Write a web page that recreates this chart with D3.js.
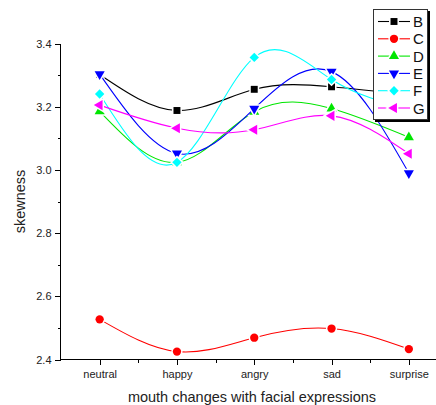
<!DOCTYPE html>
<html lang="en">
<head>
<meta charset="UTF-8">
<title>skewness by facial expression</title>
<script src="https://d3js.org/d3.v7.min.js"></script>
<style>
    body { margin: 0; background: #fff; }
    svg { display: block; font-family: "Liberation Sans", Arial, sans-serif; }
    .series-line { fill: none; stroke-width: 1.1; }
    .axis path, .axis line { stroke: #000; shape-rendering: crispEdges; }
    .axis text { font-size: 11px; fill: #222; }
    .title { font-size: 14.5px; fill: #222; }
    .legend-label { font-size: 15px; fill: #111; }
</style>
</head>
<body>
<div id="chart"></div>
<script>
    // categories and series
    const expressions = ["neutral", "happy", "angry", "sad", "surprise"];
    const seriesNames = ["B", "C", "D", "E", "F", "G"];
    const valuesB = [3.302, 3.188, 3.255, 3.263, 3.238];
    const valuesC = [2.527, 2.425, 2.469, 2.498, 2.433];
    const valuesD = [3.185, 3.024, 3.184, 3.194, 3.103];
    const valuesE = [3.303, 3.052, 3.194, 3.311, 2.990];
    const valuesF = [3.240, 3.024, 3.356, 3.286, 3.195];
    const valuesG = [3.205, 3.132, 3.127, 3.171, 3.051];
    const yTicks = [2.4, 2.6, 2.8, 3.0, 3.2, 3.4];
    const yMinorTicks = [2.5, 2.7, 2.9, 3.1, 3.3];

    const colors = ["#000000", "#ff0000", "#00e600", "#0000ff", "#00ffff", "#ff00ff"];
    const allValues = [valuesB, valuesC, valuesD, valuesE, valuesF, valuesG];

    const width = 436, height = 405;
    const svg = d3.select("#chart").append("svg")
        .attr("width", width)
        .attr("height", height);

    const x = d3.scalePoint()
        .domain(expressions)
        .range([61, 447.5])
        .padding(0.5);
    const y = d3.scaleLinear()
        .domain([2.4, 3.4])
        .range([359.5, 43.5]);

    // marker shapes
    const diamond = {
        draw(ctx, size) {
            const r = Math.sqrt(size / 2);
            ctx.moveTo(0, -r); ctx.lineTo(r, 0); ctx.lineTo(0, r); ctx.lineTo(-r, 0); ctx.closePath();
        }
    };
    const markers = [
        { type: d3.symbolSquare, size: 48, rot: 0 },
        { type: d3.symbolCircle, size: 54, rot: 0 },
        { type: d3.symbolTriangle, size: 44, rot: 0 },
        { type: d3.symbolTriangle, size: 44, rot: 180 },
        { type: diamond, size: 44, rot: 0 },
        { type: d3.symbolTriangle, size: 44, rot: -90 }
    ];

    // axes
    const yAxis = svg.append("g")
        .attr("class", "axis")
        .attr("transform", "translate(60.5,0)")
        .call(d3.axisLeft(y).tickValues(yTicks).tickSize(6).tickPadding(3).tickFormat(d3.format(".1f")));
    svg.append("g")
        .attr("class", "axis")
        .attr("transform", "translate(60.5,0)")
        .call(d3.axisLeft(y).tickValues(yMinorTicks).tickSize(3).tickFormat(""))
        .select(".domain").remove();
    yAxis.select(".domain").attr("d", "M0," + y(3.4) + "V" + y(2.4));

    const xAxis = svg.append("g")
        .attr("class", "axis")
        .attr("transform", "translate(0,359.5)")
        .call(d3.axisBottom(x).tickSize(5).tickPadding(6));
    xAxis.select(".domain").attr("d", "M60.5,0H436");
    const step = x.step();
    svg.append("g")
        .attr("class", "axis")
        .attr("transform", "translate(0,359.5)")
        .selectAll("line")
        .data(expressions.slice(1))
        .join("line")
        .attr("x1", d => Math.round(x(d) - step / 2) + 0.5)
        .attr("x2", d => Math.round(x(d) - step / 2) + 0.5)
        .attr("y1", 0)
        .attr("y2", 3);

    // axis titles
    svg.append("text")
        .attr("class", "title")
        .attr("text-anchor", "middle")
        .attr("transform", "translate(25," + y(2.9) + ") rotate(-90)")
        .text("skewness");
    svg.append("text")
        .attr("class", "title")
        .attr("text-anchor", "middle")
        .attr("x", 252)
        .attr("y", 402)
        .text("mouth changes with facial expressions");

    // lines and markers
    const line = d3.line()
        .x((d, i) => x(expressions[i]))
        .y(d => y(d))
        .curve(d3.curveNatural);

    const symbolPath = (m) => d3.symbol().type(m.type).size(m.size)();

    allValues.forEach((vals, s) => {
        const g = svg.append("g");
        g.append("path")
            .attr("class", "series-line")
            .attr("stroke", colors[s])
            .attr("d", line(vals));
        g.selectAll("path.mark")
            .data(vals)
            .join("path")
            .attr("class", "mark")
            .attr("d", symbolPath(markers[s]))
            .attr("transform", (d, i) => "translate(" + x(expressions[i]) + "," + y(d) + ") rotate(" + markers[s].rot + ")")
            .attr("fill", colors[s])
            .attr("stroke", "#fff")
            .attr("stroke-width", 3)
            .attr("paint-order", "stroke");
    });

    // legend
    const legend = svg.append("g");
    legend.append("rect")
        .attr("x", 375).attr("y", 11).attr("width", 55).attr("height", 111)
        .attr("fill", "#000");
    legend.append("rect")
        .attr("x", 373.5).attr("y", 9.5).attr("width", 54).attr("height", 110)
        .attr("fill", "#fff").attr("stroke", "#333").attr("stroke-width", 1);
    seriesNames.forEach((name, s) => {
        const ly = 21.5 + s * 17.3;
        legend.append("line")
            .attr("x1", 378).attr("x2", 410)
            .attr("y1", ly).attr("y2", ly)
            .attr("stroke", colors[s]).attr("stroke-width", 1.1);
        legend.append("path")
            .attr("d", symbolPath(markers[s]))
            .attr("transform", "translate(394," + ly + ") rotate(" + markers[s].rot + ")")
            .attr("fill", colors[s])
            .attr("stroke", "#fff")
            .attr("stroke-width", 3)
            .attr("paint-order", "stroke");
        legend.append("text")
            .attr("class", "legend-label")
            .attr("x", 413)
            .attr("y", ly + 5.5)
            .text(name);
    });
</script>
</body>
</html>
